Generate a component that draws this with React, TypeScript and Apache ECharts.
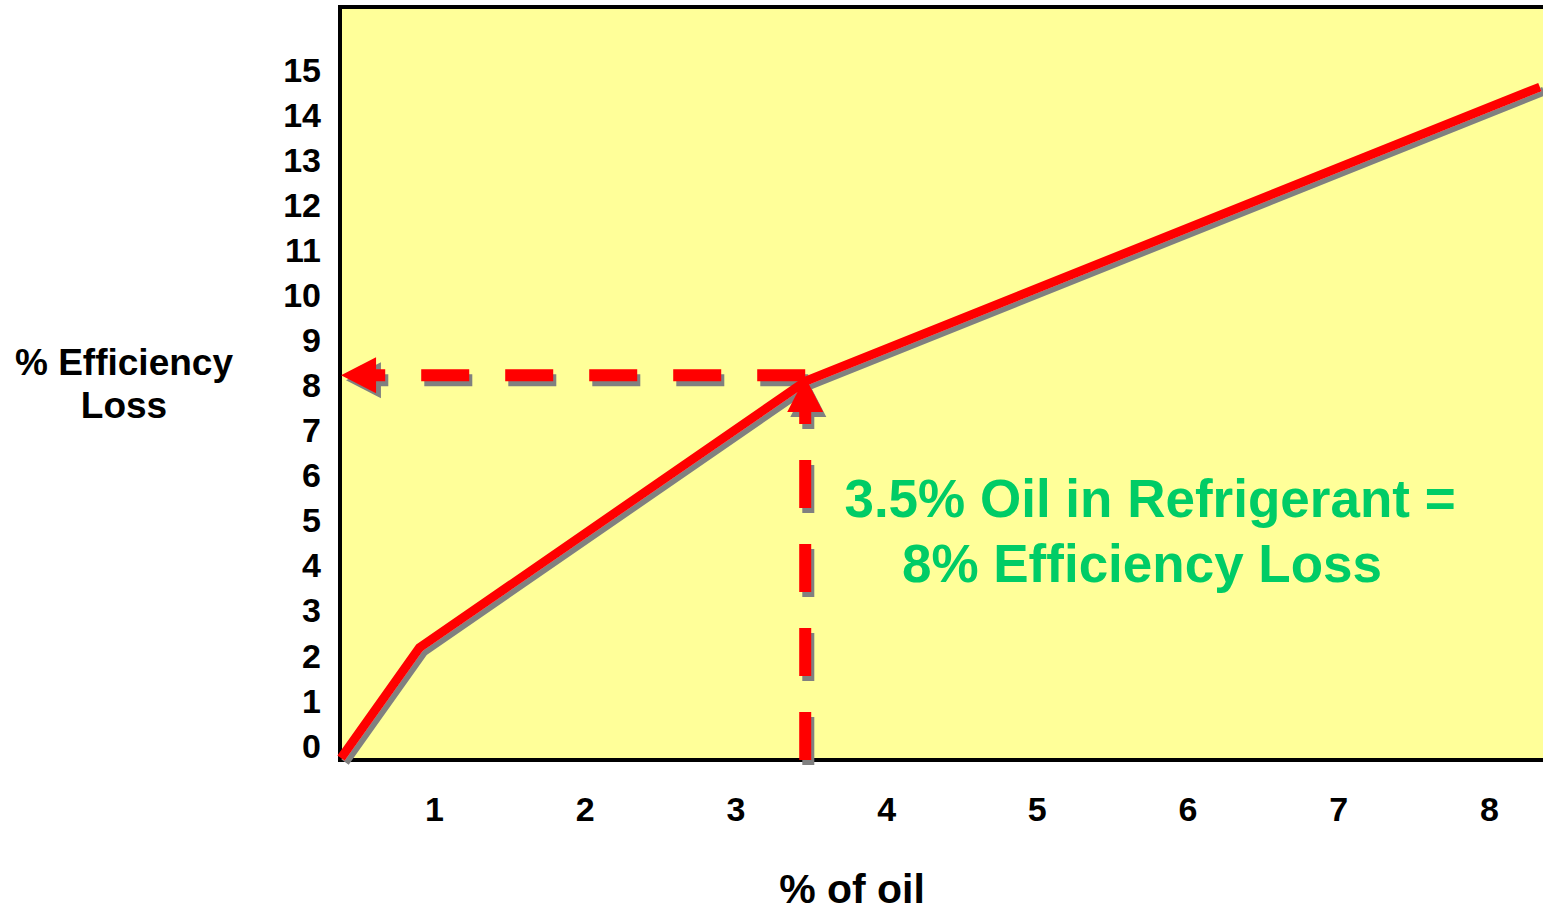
import React, { useEffect, useRef } from "react";
import * as echarts from "echarts";

// ---- data ----
const oilPct = [0.38, 0.9, 3.465, 8.335];
const efficiencyLoss = [-0.28, 2.17, 8.1, 14.63];
const xTickLabels = [1, 2, 3, 4, 5, 6, 7, 8];
const yTickLabels = [0, 1, 2, 3, 4, 5, 6, 7, 8, 9, 10, 11, 12, 13, 14, 15];
const markerOil = 3.46;
const markerLoss = 8.23;
const vArrowEnd = 7.8;
const hArrowEnd = 0.496;
const xRange = [0.373, 8.422];
const yRange = [-0.322, 16.41];
const annotationLines = ["3.5% Oil in Refrigerant =", "8% Efficiency Loss"];
const yAxisTitle = ["% Efficiency", "Loss"];
const xAxisTitle = "% of oil";

const FONT = "'Liberation Sans', Arial, Helvetica, sans-serif";
const SHADOW = "#808080";
const RED = "#FF0000";

export default function App() {
  const ref = useRef<HTMLDivElement>(null);

  useEffect(() => {
    if (!ref.current) return;
    const chart = echarts.init(ref.current, null, { renderer: "svg" });

    const lineData = oilPct.map((x, i) => [x, efficiencyLoss[i]]);
    const vArrow = [
      [markerOil, yRange[0]],
      [markerOil, vArrowEnd],
    ];
    const hArrow = [
      [markerOil, markerLoss],
      [hArrowEnd, markerLoss],
    ];
    const heads = [
      { value: [hArrowEnd, markerLoss], symbolRotate: 90 },
      { value: [markerOil, vArrowEnd], symbolRotate: 0 },
    ];
    const dash = (color: string) => ({
      color,
      width: 12,
      type: [48, 36] as any,
      cap: "butt" as const,
    });

    const hiddenAxis = (min: number, max: number, gridIndex: number) => ({
      type: "value" as const,
      gridIndex,
      min,
      max,
      show: false,
      axisLine: { show: false },
      axisTick: { show: false },
      splitLine: { show: false },
      axisLabel: { show: false },
    });

    chart.setOption({
      animation: false,
      grid: [
        {
          left: 340,
          top: 7,
          right: 0,
          bottom: 152,
          show: true,
          backgroundColor: "#FFFF99",
          borderColor: "#000000",
          borderWidth: 4,
          z: 0,
        },
        // shadow layer: same scales, shifted 5px right and down
        {
          left: 345,
          top: 12,
          right: -5,
          bottom: 147,
          show: false,
        },
      ],
      xAxis: [
        {
          type: "value",
          gridIndex: 0,
          min: xRange[0],
          max: xRange[1],
          axisLine: { show: false },
          axisTick: { show: false },
          splitLine: { show: false },
          axisLabel: {
            customValues: xTickLabels,
            formatter: (v: number) => String(Math.round(v)),
            fontSize: 34,
            fontWeight: "bold",
            fontFamily: FONT,
            color: "#000000",
            margin: 32,
          },
        },
        hiddenAxis(xRange[0], xRange[1], 1),
      ],
      yAxis: [
        {
          type: "value",
          gridIndex: 0,
          min: yRange[0],
          max: yRange[1],
          axisLine: { show: false },
          axisTick: { show: false },
          splitLine: { show: false },
          axisLabel: {
            customValues: yTickLabels,
            formatter: (v: number) => String(Math.round(v)),
            fontSize: 34,
            fontWeight: "bold",
            fontFamily: FONT,
            color: "#000000",
            margin: 19,
          },
        },
        hiddenAxis(yRange[0], yRange[1], 1),
      ],
      series: [
        // shadows
        {
          type: "line",
          xAxisIndex: 1,
          yAxisIndex: 1,
          data: vArrow,
          symbol: "none",
          lineStyle: dash(SHADOW),
          z: 1,
        },
        {
          type: "line",
          xAxisIndex: 1,
          yAxisIndex: 1,
          data: hArrow,
          symbol: "none",
          lineStyle: dash(SHADOW),
          z: 1,
        },
        {
          type: "scatter",
          xAxisIndex: 1,
          yAxisIndex: 1,
          symbol: "triangle",
          symbolSize: [36, 35],
          data: heads,
          itemStyle: { color: SHADOW, opacity: 1 },
          z: 1,
        },
        // main curve
        {
          type: "line",
          data: lineData,
          symbol: "none",
          clip: false,
          lineStyle: {
            color: RED,
            width: 9,
            cap: "butt",
            join: "miter",
            shadowColor: SHADOW,
            shadowBlur: 0,
            shadowOffsetX: 4,
            shadowOffsetY: 4,
          },
          z: 2,
        },
        // dashed arrows
        {
          type: "line",
          data: vArrow,
          symbol: "none",
          lineStyle: dash(RED),
          z: 3,
        },
        {
          type: "line",
          data: hArrow,
          symbol: "none",
          lineStyle: dash(RED),
          z: 3,
        },
        {
          type: "scatter",
          symbol: "triangle",
          symbolSize: [36, 35],
          data: heads,
          itemStyle: { color: RED, opacity: 1 },
          z: 4,
        },
      ],
      graphic: [
        {
          type: "text",
          x: 124,
          y: 362,
          style: {
            text: yAxisTitle[0],
            fontSize: 37,
            fontWeight: "bold",
            fontFamily: FONT,
            fill: "#000000",
            align: "center",
            verticalAlign: "middle",
          },
        },
        {
          type: "text",
          x: 124,
          y: 405,
          style: {
            text: yAxisTitle[1],
            fontSize: 37,
            fontWeight: "bold",
            fontFamily: FONT,
            fill: "#000000",
            align: "center",
            verticalAlign: "middle",
          },
        },
        {
          type: "text",
          x: 852,
          y: 889,
          style: {
            text: xAxisTitle,
            fontSize: 41,
            fontWeight: "bold",
            fontFamily: FONT,
            fill: "#000000",
            align: "center",
            verticalAlign: "middle",
          },
        },
        {
          type: "text",
          x: 1150,
          y: 498,
          z: 10,
          style: {
            text: annotationLines[0],
            fontSize: 53,
            fontWeight: "bold",
            fontFamily: FONT,
            fill: "#00CC66",
            align: "center",
            verticalAlign: "middle",
          },
        },
        {
          type: "text",
          x: 1142,
          y: 563,
          z: 10,
          style: {
            text: annotationLines[1],
            fontSize: 53,
            fontWeight: "bold",
            fontFamily: FONT,
            fill: "#00CC66",
            align: "center",
            verticalAlign: "middle",
          },
        },
      ],
    });

    return () => chart.dispose();
  }, []);

  return (
    <div
      style={{
        position: "absolute",
        left: 0,
        top: 0,
        width: 1543,
        height: 912,
        overflow: "hidden",
      }}
    >
      <div ref={ref} style={{ width: 1553, height: 912 }} />
    </div>
  );
}
